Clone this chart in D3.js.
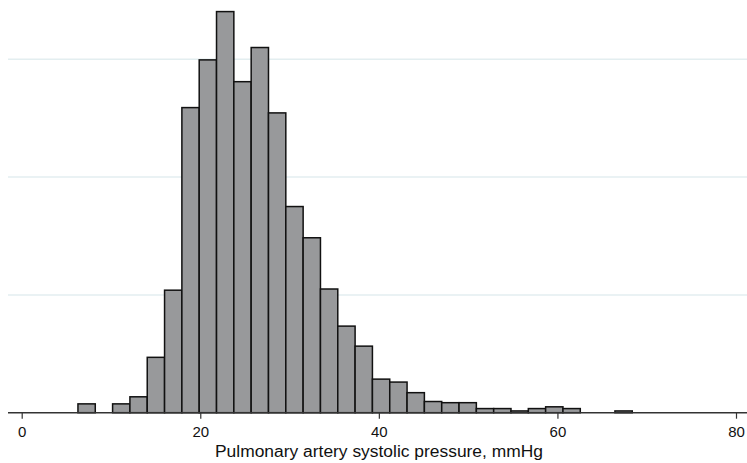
<!DOCTYPE html>
<html>
<head>
    <title>PASP histogram</title>
    <style>
        body { margin: 0; background: #fff; }
        svg { display: block; }
    </style>
</head>
<body>
<script src="https://d3js.org/d3.v7.min.js"></script>
<script>
    var width = 747,
        height = 463;

    // bin lower edges (mmHg), bin width ~1.94
    var binEdges = [6.30, 8.24, 10.18, 12.12, 14.06, 16.00, 17.94, 19.88, 21.82, 23.76,
                    25.70, 27.64, 29.58, 31.52, 33.46, 35.40, 37.34, 39.28, 41.22, 43.16,
                    45.10, 47.04, 48.98, 50.92, 52.86, 54.80, 56.74, 58.68, 60.62, 62.56,
                    64.50, 66.44];
    var binWidth = 1.94;
    // density per bin
    var density = [0.0015, 0, 0.0015, 0.0027, 0.0094, 0.0208, 0.0518, 0.0599, 0.0681, 0.0562,
                   0.0620, 0.0509, 0.0350, 0.0297, 0.0210, 0.0147, 0.0113, 0.0057, 0.0052, 0.0034,
                   0.0019, 0.0017, 0.0017, 0.0007, 0.0007, 0.0003, 0.0007, 0.0010, 0.0007, 0,
                   0, 0.0003];
    var xTicks = [0, 20, 40, 60, 80];
    var gridValues = [0.02, 0.04, 0.06];

    var bins = binEdges.map(function (e, i) {
        return { x0: e, x1: e + binWidth, y: density[i] };
    }).filter(function (d) { return d.y > 0; });

    var x = d3.scaleLinear().domain([0, 80]).range([21.7, 736]);
    var y = d3.scaleLinear().domain([0, 0.06]).range([412.7, 59.3]);

    var svg = d3.select('body').append('svg')
            .attr('width', width)
            .attr('height', height);

    // grid
    svg.selectAll('line.grid')
            .data(gridValues)
            .enter().append('line')
            .attr('class', 'grid')
            .attr('x1', 8)
            .attr('x2', width)
            .attr('y1', function (d) { return y(d); })
            .attr('y2', function (d) { return y(d); })
            .style('stroke', '#e3eef0')
            .style('stroke-width', 1.5);

    // bars
    svg.selectAll('rect.bar')
            .data(bins)
            .enter().append('rect')
            .attr('class', 'bar')
            .attr('x', function (d) { return x(d.x0); })
            .attr('y', function (d) { return y(d.y); })
            .attr('width', function (d) { return x(d.x1) - x(d.x0); })
            .attr('height', function (d) { return y(0) - y(d.y); })
            .style('fill', '#98999b')
            .style('stroke', '#111')
            .style('stroke-width', 1.5);

    // x axis
    var xAxis = d3.axisBottom(x)
            .tickValues(xTicks)
            .tickSize(6)
            .tickPadding(8)
            .tickFormat(d3.format('d'));

    var gx = svg.append('g')
            .attr('transform', 'translate(0,' + y(0) + ')')
            .call(xAxis);
    gx.select('.domain').remove();
    gx.selectAll('.tick line').style('stroke', '#333').style('stroke-width', 1.2);
    gx.selectAll('.tick text')
            .style('font-family', '"Liberation Sans", Arial, sans-serif')
            .style('font-size', '15px')
            .style('fill', '#111');

    gx.append('line')
            .attr('x1', 8)
            .attr('x2', width)
            .style('stroke', '#333')
            .style('stroke-width', 1.5);

    svg.append('text')
            .attr('x', 379)
            .attr('y', 457)
            .attr('text-anchor', 'middle')
            .attr('textLength', 328)
            .attr('lengthAdjust', 'spacingAndGlyphs')
            .style('font-family', '"Liberation Sans", Arial, sans-serif')
            .style('font-size', '16px')
            .style('fill', '#111')
            .text('Pulmonary artery systolic pressure, mmHg');
</script>
</body>
</html>
